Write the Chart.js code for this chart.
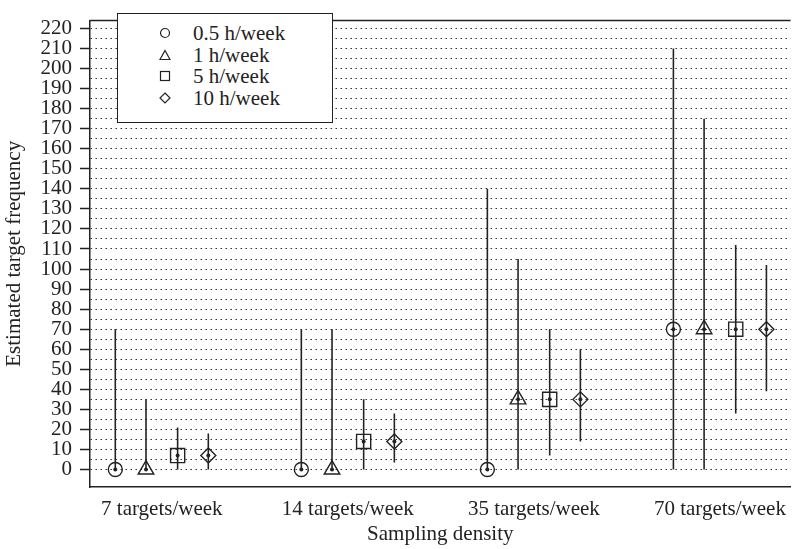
<!DOCTYPE html>
<html>
<head>
<meta charset="utf-8">
<script src="https://cdn.jsdelivr.net/npm/chart.js@4/dist/chart.umd.min.js"></script>
<style>
  html, body { margin: 0; padding: 0; background: #fff; }
  #wrap { position: relative; width: 802px; height: 549px; }
  #legend {
    position: absolute; left: 117px; top: 13px; width: 216px; height: 110px;
    border: 1.5px solid #222; background: #fff; box-sizing: border-box;
    font-family: "Liberation Serif", "Times New Roman", serif; font-size: 21px; color: #222;
  }
  #legend .row { position: absolute; left: 0; height: 22px; line-height: 22px; }
  #legend svg { position: absolute; left: 41px; top: 5px; }
  #legend span { position: absolute; left: 75px; white-space: nowrap; }
</style>
</head>
<body>
<div id="wrap">
  <canvas id="chart" width="802" height="549"></canvas>
  <div id="legend"></div>
</div>
<script>
// ── data ──
const categories = ['7 targets/week', '14 targets/week', '35 targets/week', '70 targets/week'];
const seriesNames = ['0.5 h/week', '1 h/week', '5 h/week', '10 h/week'];

const median05 = [0, 0, 0, 70];
const low05    = [0, 0, 0, 0];
const high05   = [70, 70, 140, 210];

const median1  = [0, 0, 35, 70];
const low1     = [0, 0, 0, 0];
const high1    = [35, 70, 105, 175];

const median5  = [7, 14, 35, 70];
const low5     = [0, 0, 7, 28];
const high5    = [21, 35, 70, 112];

const median10 = [7, 14, 35, 70];
const low10    = [0, 3.5, 14, 39];
const high10   = [18, 28, 60, 102];

const yTicks = [0,10,20,30,40,50,60,70,80,90,100,110,120,130,140,150,160,170,180,190,200,210,220];

// ── styling / layout ──
const FONT = '"Liberation Serif", "Times New Roman", serif';
const INK = '#222';
const offsets = [-0.25, -0.085, 0.085, 0.25];
const styles = [
  { shape: 'circle', r: 7 },
  { shape: 'triangle', r: 9 },
  { shape: 'rect', r: 10 },
  { shape: 'rectRot', r: 7.5 }
];
const series = [
  [median05, low05, high05],
  [median1, low1, high1],
  [median5, low5, high5],
  [median10, low10, high10]
];

const datasets = [];
const dots = [];
series.forEach(([med, lo, hi], s) => {
  const bars = [];
  categories.forEach((c, i) => {
    const x = i + offsets[s];
    bars.push({ x, y: lo[i] }, { x, y: hi[i] }, { x, y: null });
    dots.push({ x, y: med[i] });
  });
  datasets.push({
    type: 'line', label: seriesNames[s] + ' range', data: bars, showLine: true, spanGaps: false,
    borderColor: INK, borderWidth: 1.6, pointRadius: 0, order: 3
  });
  datasets.push({
    label: seriesNames[s], data: med.map((v, i) => ({ x: i + offsets[s], y: v })),
    pointStyle: styles[s].shape, pointRadius: styles[s].r, pointHoverRadius: styles[s].r,
    borderColor: INK, borderWidth: 1.4, backgroundColor: 'transparent', order: 2
  });
});
datasets.push({
  label: 'median', data: dots, pointStyle: 'circle', pointRadius: 2,
  backgroundColor: INK, borderColor: INK, borderWidth: 0, order: 1
});

// top frame line
const framePlugin = {
  id: 'frame',
  afterDraw(chart) {
    const { ctx, chartArea: a } = chart;
    ctx.save();
    ctx.strokeStyle = INK; ctx.lineWidth = 1.5;
    ctx.beginPath(); ctx.moveTo(a.left, a.top); ctx.lineTo(a.right, a.top); ctx.stroke();
    ctx.restore();
  }
};

new Chart(document.getElementById('chart').getContext('2d'), {
  type: 'scatter',
  data: { datasets },
  plugins: [framePlugin],
  options: {
    responsive: false, animation: false,
    layout: { padding: { top: 6, right: 0, left: 0, bottom: 0 } },
    plugins: { legend: { display: false }, tooltip: { enabled: false } },
    scales: {
      x: {
        type: 'linear', min: -0.386, max: 3.38,
        afterBuildTicks: s => { s.ticks = categories.map((c, i) => ({ value: i })); },
        afterFit: s => { s.height = 62; },
        grid: { display: false, drawTicks: false },
        border: { color: INK, width: 1.5 },
        ticks: { padding: 10, color: INK, font: { family: FONT, size: 21 }, maxRotation: 0, autoSkip: false,
                 callback: v => categories[v] ?? '' },
        title: { display: true, text: 'Sampling density', color: INK, font: { family: FONT, size: 21 },
                 padding: { top: 0, bottom: 2 } }
      },
      y: {
        min: -8.7, max: 223.9,
        afterBuildTicks: s => {
          const t = [];
          for (let v = 0; v <= 220; v += 5) t.push({ value: v });
          s.ticks = t;
        },
        afterFit: s => { s.width = 90; },
        grid: {
          color: '#333', lineWidth: 1,
          tickLength: 10, tickBorderDash: [], tickWidth: 1.5,
          tickColor: ctx => (yTicks.includes(ctx.tick && ctx.tick.value) ? INK : 'rgba(0,0,0,0)')
        },
        border: { color: INK, width: 1.5, dash: [1.5, 3.5] },
        ticks: { padding: 8, color: INK, font: { family: FONT, size: 21 }, autoSkip: false,
                 callback: v => (yTicks.includes(v) ? v : '') },
        title: { display: true, text: 'Estimated target frequency', color: INK,
                 font: { family: FONT, size: 21 }, padding: { top: 2, bottom: 0 } }
      }
    }
  }
});

// legend box (HTML)
const legend = document.getElementById('legend');
const svgShapes = [
  '<circle cx="6" cy="6" r="4.5" fill="none" stroke="#222" stroke-width="1.2"/>',
  '<polygon points="6,1.5 11,10.5 1,10.5" fill="none" stroke="#222" stroke-width="1.2"/>',
  '<rect x="1.5" y="1.5" width="9" height="9" fill="none" stroke="#222" stroke-width="1.2"/>',
  '<polygon points="6,1 11,6 6,11 1,6" fill="none" stroke="#222" stroke-width="1.2"/>'
];
seriesNames.forEach((name, i) => {
  const row = document.createElement('div');
  row.className = 'row';
  row.style.top = (8 + i * 21.7) + 'px';
  row.style.width = '100%';
  row.innerHTML = '<svg width="12" height="12">' + svgShapes[i] + '</svg><span>' + name + '</span>';
  legend.appendChild(row);
});
</script>
</body>
</html>
